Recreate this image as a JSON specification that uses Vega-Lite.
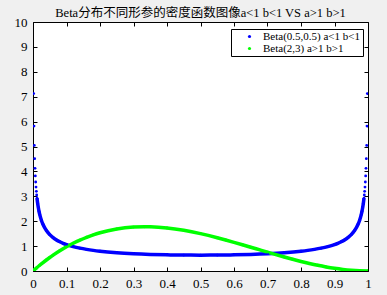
{
  "$schema": "https://vega.github.io/schema/vega-lite/v6.json",
  "width": 335,
  "height": 249,
  "autosize": "none",
  "padding": {"left": 33, "top": 22, "right": 19, "bottom": 24},
  "background": "#f0f0f0",
  "title": {"text": "Beta分布不同形参的密度函数图像a<1 b<1 VS a>1 b>1", "font": "Liberation Serif, Noto Sans CJK SC", "fontSize": 12.5, "fontWeight": "normal", "color": "black", "offset": -3},
  "config": {
    "view": {"fill": "white", "stroke": "black", "strokeWidth": 1},
    "axis": {"grid": false, "domain": false, "tickColor": "black", "tickSize": -4, "labelFont": "Liberation Serif", "labelFontSize": 13, "labelColor": "black", "title": null}
  },
  "data": {"values": [
    {"s": "Beta(0.5,0.5) a<1 b<1", "x": 0.002, "y": 7.125},
    {"s": "Beta(0.5,0.5) a<1 b<1", "x": 0.003, "y": 5.820},
    {"s": "Beta(0.5,0.5) a<1 b<1", "x": 0.004, "y": 5.043},
    {"s": "Beta(0.5,0.5) a<1 b<1", "x": 0.005, "y": 4.513},
    {"s": "Beta(0.5,0.5) a<1 b<1", "x": 0.006, "y": 4.122},
    {"s": "Beta(0.5,0.5) a<1 b<1", "x": 0.007, "y": 3.818},
    {"s": "Beta(0.5,0.5) a<1 b<1", "x": 0.008, "y": 3.573},
    {"s": "Beta(0.5,0.5) a<1 b<1", "x": 0.009, "y": 3.370},
    {"s": "Beta(0.5,0.5) a<1 b<1", "x": 0.010, "y": 3.199},
    {"s": "Beta(0.5,0.5) a<1 b<1", "x": 0.011, "y": 3.052},
    {"s": "Beta(0.5,0.5) a<1 b<1", "x": 0.012, "y": 2.923},
    {"s": "Beta(0.5,0.5) a<1 b<1", "x": 0.014, "y": 2.709},
    {"s": "Beta(0.5,0.5) a<1 b<1", "x": 0.016, "y": 2.537},
    {"s": "Beta(0.5,0.5) a<1 b<1", "x": 0.018, "y": 2.394},
    {"s": "Beta(0.5,0.5) a<1 b<1", "x": 0.02, "y": 2.274},
    {"s": "Beta(0.5,0.5) a<1 b<1", "x": 0.025, "y": 2.039},
    {"s": "Beta(0.5,0.5) a<1 b<1", "x": 0.03, "y": 1.866},
    {"s": "Beta(0.5,0.5) a<1 b<1", "x": 0.04, "y": 1.624},
    {"s": "Beta(0.5,0.5) a<1 b<1", "x": 0.05, "y": 1.4605},
    {"s": "Beta(0.5,0.5) a<1 b<1", "x": 0.06, "y": 1.3403},
    {"s": "Beta(0.5,0.5) a<1 b<1", "x": 0.07, "y": 1.2476},
    {"s": "Beta(0.5,0.5) a<1 b<1", "x": 0.08, "y": 1.1733},
    {"s": "Beta(0.5,0.5) a<1 b<1", "x": 0.09, "y": 1.1123},
    {"s": "Beta(0.5,0.5) a<1 b<1", "x": 0.10, "y": 1.0610},
    {"s": "Beta(0.5,0.5) a<1 b<1", "x": 0.12, "y": 0.9795},
    {"s": "Beta(0.5,0.5) a<1 b<1", "x": 0.14, "y": 0.9174},
    {"s": "Beta(0.5,0.5) a<1 b<1", "x": 0.16, "y": 0.8683},
    {"s": "Beta(0.5,0.5) a<1 b<1", "x": 0.18, "y": 0.8285},
    {"s": "Beta(0.5,0.5) a<1 b<1", "x": 0.20, "y": 0.7958},
    {"s": "Beta(0.5,0.5) a<1 b<1", "x": 0.25, "y": 0.7351},
    {"s": "Beta(0.5,0.5) a<1 b<1", "x": 0.30, "y": 0.6946},
    {"s": "Beta(0.5,0.5) a<1 b<1", "x": 0.35, "y": 0.6674},
    {"s": "Beta(0.5,0.5) a<1 b<1", "x": 0.40, "y": 0.6497},
    {"s": "Beta(0.5,0.5) a<1 b<1", "x": 0.45, "y": 0.6398},
    {"s": "Beta(0.5,0.5) a<1 b<1", "x": 0.50, "y": 0.6366},
    {"s": "Beta(0.5,0.5) a<1 b<1", "x": 0.55, "y": 0.6398},
    {"s": "Beta(0.5,0.5) a<1 b<1", "x": 0.60, "y": 0.6497},
    {"s": "Beta(0.5,0.5) a<1 b<1", "x": 0.65, "y": 0.6674},
    {"s": "Beta(0.5,0.5) a<1 b<1", "x": 0.70, "y": 0.6946},
    {"s": "Beta(0.5,0.5) a<1 b<1", "x": 0.75, "y": 0.7351},
    {"s": "Beta(0.5,0.5) a<1 b<1", "x": 0.80, "y": 0.7958},
    {"s": "Beta(0.5,0.5) a<1 b<1", "x": 0.82, "y": 0.8285},
    {"s": "Beta(0.5,0.5) a<1 b<1", "x": 0.84, "y": 0.8683},
    {"s": "Beta(0.5,0.5) a<1 b<1", "x": 0.86, "y": 0.9174},
    {"s": "Beta(0.5,0.5) a<1 b<1", "x": 0.88, "y": 0.9795},
    {"s": "Beta(0.5,0.5) a<1 b<1", "x": 0.90, "y": 1.0610},
    {"s": "Beta(0.5,0.5) a<1 b<1", "x": 0.91, "y": 1.1123},
    {"s": "Beta(0.5,0.5) a<1 b<1", "x": 0.92, "y": 1.1733},
    {"s": "Beta(0.5,0.5) a<1 b<1", "x": 0.93, "y": 1.2476},
    {"s": "Beta(0.5,0.5) a<1 b<1", "x": 0.94, "y": 1.3403},
    {"s": "Beta(0.5,0.5) a<1 b<1", "x": 0.95, "y": 1.4605},
    {"s": "Beta(0.5,0.5) a<1 b<1", "x": 0.96, "y": 1.624},
    {"s": "Beta(0.5,0.5) a<1 b<1", "x": 0.97, "y": 1.866},
    {"s": "Beta(0.5,0.5) a<1 b<1", "x": 0.975, "y": 2.039},
    {"s": "Beta(0.5,0.5) a<1 b<1", "x": 0.98, "y": 2.274},
    {"s": "Beta(0.5,0.5) a<1 b<1", "x": 0.982, "y": 2.394},
    {"s": "Beta(0.5,0.5) a<1 b<1", "x": 0.984, "y": 2.537},
    {"s": "Beta(0.5,0.5) a<1 b<1", "x": 0.986, "y": 2.709},
    {"s": "Beta(0.5,0.5) a<1 b<1", "x": 0.988, "y": 2.923},
    {"s": "Beta(0.5,0.5) a<1 b<1", "x": 0.989, "y": 3.052},
    {"s": "Beta(0.5,0.5) a<1 b<1", "x": 0.990, "y": 3.199},
    {"s": "Beta(0.5,0.5) a<1 b<1", "x": 0.991, "y": 3.370},
    {"s": "Beta(0.5,0.5) a<1 b<1", "x": 0.992, "y": 3.573},
    {"s": "Beta(0.5,0.5) a<1 b<1", "x": 0.993, "y": 3.818},
    {"s": "Beta(0.5,0.5) a<1 b<1", "x": 0.994, "y": 4.122},
    {"s": "Beta(0.5,0.5) a<1 b<1", "x": 0.995, "y": 4.513},
    {"s": "Beta(0.5,0.5) a<1 b<1", "x": 0.996, "y": 5.043},
    {"s": "Beta(0.5,0.5) a<1 b<1", "x": 0.997, "y": 5.820},
    {"s": "Beta(0.5,0.5) a<1 b<1", "x": 0.998, "y": 7.125},
    {"s": "Beta(2,3) a>1 b>1", "x": 0.0, "y": 0.0},
    {"s": "Beta(2,3) a>1 b>1", "x": 0.005, "y": 0.0594},
    {"s": "Beta(2,3) a>1 b>1", "x": 0.01, "y": 0.1176},
    {"s": "Beta(2,3) a>1 b>1", "x": 0.02, "y": 0.2305},
    {"s": "Beta(2,3) a>1 b>1", "x": 0.03, "y": 0.3387},
    {"s": "Beta(2,3) a>1 b>1", "x": 0.04, "y": 0.4424},
    {"s": "Beta(2,3) a>1 b>1", "x": 0.05, "y": 0.5415},
    {"s": "Beta(2,3) a>1 b>1", "x": 0.06, "y": 0.6362},
    {"s": "Beta(2,3) a>1 b>1", "x": 0.08, "y": 0.8125},
    {"s": "Beta(2,3) a>1 b>1", "x": 0.10, "y": 0.972},
    {"s": "Beta(2,3) a>1 b>1", "x": 0.12, "y": 1.1151},
    {"s": "Beta(2,3) a>1 b>1", "x": 0.14, "y": 1.2425},
    {"s": "Beta(2,3) a>1 b>1", "x": 0.16, "y": 1.3548},
    {"s": "Beta(2,3) a>1 b>1", "x": 0.18, "y": 1.4524},
    {"s": "Beta(2,3) a>1 b>1", "x": 0.20, "y": 1.536},
    {"s": "Beta(2,3) a>1 b>1", "x": 0.25, "y": 1.6875},
    {"s": "Beta(2,3) a>1 b>1", "x": 0.30, "y": 1.764},
    {"s": "Beta(2,3) a>1 b>1", "x": 0.3333, "y": 1.7778},
    {"s": "Beta(2,3) a>1 b>1", "x": 0.35, "y": 1.7745},
    {"s": "Beta(2,3) a>1 b>1", "x": 0.40, "y": 1.728},
    {"s": "Beta(2,3) a>1 b>1", "x": 0.45, "y": 1.6335},
    {"s": "Beta(2,3) a>1 b>1", "x": 0.50, "y": 1.5},
    {"s": "Beta(2,3) a>1 b>1", "x": 0.55, "y": 1.3365},
    {"s": "Beta(2,3) a>1 b>1", "x": 0.575, "y": 1.2463},
    {"s": "Beta(2,3) a>1 b>1", "x": 0.60, "y": 1.152},
    {"s": "Beta(2,3) a>1 b>1", "x": 0.625, "y": 1.0547},
    {"s": "Beta(2,3) a>1 b>1", "x": 0.65, "y": 0.9555},
    {"s": "Beta(2,3) a>1 b>1", "x": 0.675, "y": 0.8556},
    {"s": "Beta(2,3) a>1 b>1", "x": 0.70, "y": 0.756},
    {"s": "Beta(2,3) a>1 b>1", "x": 0.725, "y": 0.6579},
    {"s": "Beta(2,3) a>1 b>1", "x": 0.75, "y": 0.5625},
    {"s": "Beta(2,3) a>1 b>1", "x": 0.775, "y": 0.4708},
    {"s": "Beta(2,3) a>1 b>1", "x": 0.80, "y": 0.384},
    {"s": "Beta(2,3) a>1 b>1", "x": 0.825, "y": 0.3032},
    {"s": "Beta(2,3) a>1 b>1", "x": 0.85, "y": 0.2295},
    {"s": "Beta(2,3) a>1 b>1", "x": 0.875, "y": 0.1641},
    {"s": "Beta(2,3) a>1 b>1", "x": 0.90, "y": 0.108},
    {"s": "Beta(2,3) a>1 b>1", "x": 0.925, "y": 0.0624},
    {"s": "Beta(2,3) a>1 b>1", "x": 0.95, "y": 0.0285},
    {"s": "Beta(2,3) a>1 b>1", "x": 0.975, "y": 0.0073},
    {"s": "Beta(2,3) a>1 b>1", "x": 1.0, "y": 0.0}
  ]},
  "layer": [
    {
      "transform": [{"filter": "datum.s == 'Beta(0.5,0.5) a<1 b<1' && datum.x >= 0.012 && datum.x <= 0.988"}],
      "mark": {"type": "line", "strokeWidth": 3.5, "interpolate": "monotone", "clip": true, "color": "#0000ff"},
      "encoding": {
        "x": {"field": "x", "type": "quantitative", "scale": {"domain": [0, 1], "nice": false}, "axis": {"orient": "bottom", "values": [0, 0.1, 0.2, 0.3, 0.4, 0.5, 0.6, 0.7, 0.8, 0.9, 1], "format": "~g", "labelPadding": 10, "labelFlush": false}},
        "y": {"field": "y", "type": "quantitative", "scale": {"domain": [0, 10], "nice": false}, "axis": {"orient": "left", "values": [0, 1, 2, 3, 4, 5, 6, 7, 8, 9, 10], "labelPadding": 10}}
      }
    },
    {
      "transform": [{"filter": "datum.s == 'Beta(2,3) a>1 b>1'"}],
      "mark": {"type": "line", "strokeWidth": 3.5, "interpolate": "monotone", "clip": true, "color": "#00ff00"},
      "encoding": {
        "x": {"field": "x", "type": "quantitative", "axis": null},
        "y": {"field": "y", "type": "quantitative", "axis": null}
      }
    },
    {
      "mark": {"type": "point", "shape": "circle", "filled": true, "size": 8, "opacity": 1, "clip": true},
      "encoding": {
        "x": {"field": "x", "type": "quantitative", "axis": {"orient": "top", "values": [0, 0.1, 0.2, 0.3, 0.4, 0.5, 0.6, 0.7, 0.8, 0.9, 1], "labels": false}},
        "y": {"field": "y", "type": "quantitative", "axis": {"orient": "right", "values": [0, 1, 2, 3, 4, 5, 6, 7, 8, 9, 10], "labels": false}},
        "fill": {"field": "s", "type": "nominal", "scale": {"domain": ["Beta(0.5,0.5) a<1 b<1", "Beta(2,3) a>1 b>1"], "range": ["#0000ff", "#00ff00"]},
          "legend": {"title": null, "orient": "none", "legendX": 198, "legendY": 7, "direction": "vertical", "strokeColor": "black", "fillColor": "white", "padding": 2, "symbolType": "circle", "symbolSize": 10, "symbolOffset": 11, "labelOffset": 8, "labelFont": "Liberation Serif", "labelFontSize": 11, "labelColor": "black", "rowPadding": 0, "labelLimit": 200}}
      }
    }
  ],
  "resolve": {"axis": {"x": "independent", "y": "independent"}}
}
